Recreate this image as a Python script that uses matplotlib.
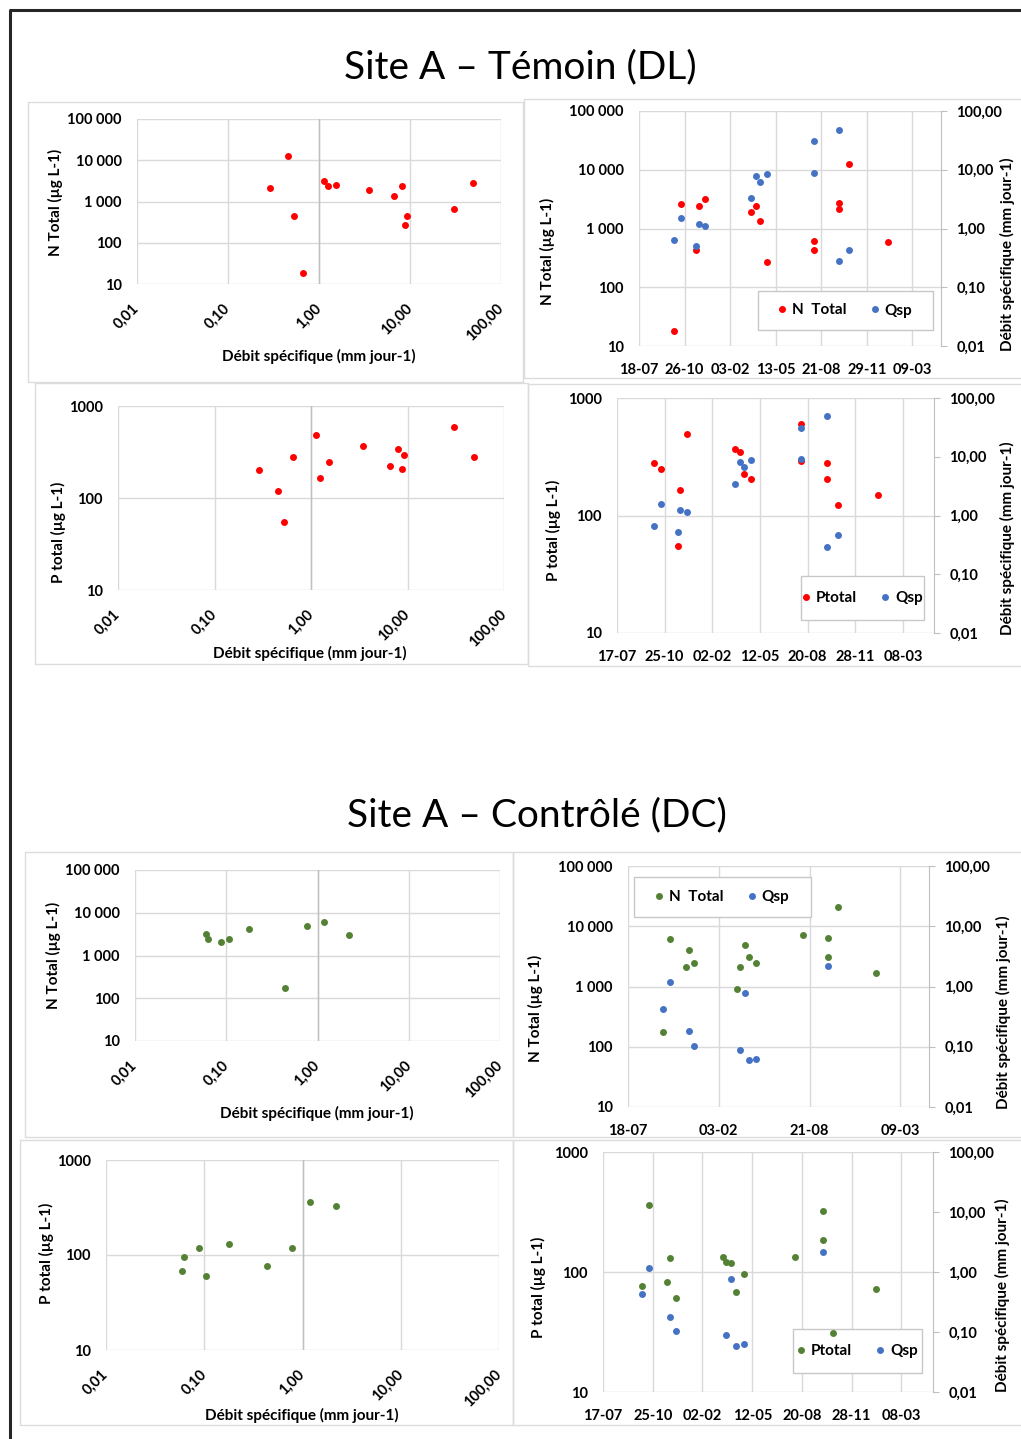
import numpy as np
import pandas as pd
import matplotlib
matplotlib.use('Agg')
import matplotlib.pyplot as plt
import matplotlib.dates as mdates
from matplotlib.ticker import FixedLocator, FuncFormatter, NullLocator
from matplotlib.patches import Rectangle
from matplotlib.lines import Line2D

plt.rcParams['font.family'] = ['Lato', 'DejaVu Sans']
plt.rcParams['font.weight'] = 'bold'

W, H = 1021, 1439
RED, BLUE, GREEN = '#ff0000', '#4472c4', '#548235'
GRID = '#d9d9d9'
MS = 5.0
TICK_FS = 10.5
LAB_FS = 11

# ---- Site A - Temoin (DL) ----
dl_nq_q = [0.286, 0.458, 0.525, 0.659, 1.13, 1.24, 1.53, 3.50, 6.65, 8.15, 9.25, 8.79, 30.7, 48.8]
dl_nq_n = [2120, 12450, 445, 18.5, 3200, 2380, 2560, 1900, 1330, 2380, 445, 269, 646, 2750]

dl_pq_q = [0.286, 0.457, 0.527, 0.653, 1.12, 1.23, 1.53, 3.47, 6.59, 8.04, 8.70, 9.20, 30.6, 48.9]
dl_pq_p = [203, 119, 54.5, 279, 488, 165, 246, 367, 225, 343, 207, 293, 586, 279]

dl_dates_c = ['2015-10-03', '2015-10-18', '2015-11-21', '2015-11-27', '2015-12-10',
              '2016-03-20', '2016-03-30', '2016-04-08', '2016-04-24', '2016-08-06',
              '2016-08-06', '2016-09-30', '2016-09-30', '2016-10-22', '2017-01-15']
dl_ntot = [18, 2565, 438, 2370, 3120, 1925, 2370, 1352, 270, 624, 438, 2738, 2137, 12330, 593]
dl_ptot = [281, 248, 54.6, 165, 494, 371, 347, 226, 206, 601, 293, 281, 205, 123, 150]

dl_dates_q = ['2015-10-03', '2015-10-18', '2015-11-21', '2015-11-27', '2015-12-10',
              '2016-03-20', '2016-03-30', '2016-04-08', '2016-04-24', '2016-08-06',
              '2016-08-06', '2016-09-30', '2016-09-30', '2016-10-22']
dl_qsp_n = [0.641, 1.48, 0.513, 1.20, 1.10, 3.37, 7.8, 6.3, 8.4, 30.4, 8.9, 48, 0.277, 0.438]
dl_qsp_p = [0.650, 1.54, 0.521, 1.22, 1.14, 3.41, 8.07, 6.64, 8.73, 30.5, 9.08, 49.4, 0.286, 0.457]

# ---- Site A - Controle (DC) ----
dc_nq_q = [0.0594, 0.0635, 0.0875, 0.106, 0.179, 0.436, 0.771, 1.18, 2.20]
dc_nq_n = [3245, 2478, 2071, 2390, 4090, 177, 4990, 5970, 3070]

dc_pq_q = [0.0594, 0.0623, 0.0877, 0.104, 0.179, 0.436, 0.781, 1.20, 2.19]
dc_pq_p = [67.5, 96, 119.5, 60.2, 129.5, 76.8, 119.5, 362, 324]

dc_dates_c = ['2015-10-03', '2015-10-18', '2015-11-22', '2015-11-29', '2015-12-11',
              '2016-03-14', '2016-03-21', '2016-03-31', '2016-04-09', '2016-04-25',
              '2016-08-07', '2016-10-01', '2016-10-01', '2016-10-22', '2017-01-15']
dc_ntot = [176, 6070, 2080, 4040, 2426, 908, 2080, 4940, 3128, 2490, 7066, 6380, 3050, 20600, 1698]
dc_ptot = [76.9, 365, 82, 130.7, 60.8, 134, 122, 118.9, 68.2, 95.7, 132.4, 324, 186, 30.9, 72.8]

dc_dates_q = ['2015-10-03', '2015-10-18', '2015-11-29', '2015-12-11', '2016-03-21',
              '2016-03-31', '2016-04-09', '2016-04-25', '2016-10-01']
dc_qsp_n = [0.428, 1.19, 0.180, 0.103, 0.088, 0.771, 0.060, 0.062, 2.19]
dc_qsp_p = [0.426, 1.16, 0.179, 0.103, 0.0885, 0.766, 0.0589, 0.0620, 2.18]

thou = FuncFormatter(lambda v, p: f'{v:,.0f}'.replace(',', ' '))
plain = FuncFormatter(lambda v, p: f'{v:.0f}')
dec2 = FuncFormatter(lambda v, p: f'{v:.2f}'.replace('.', ','))

QLAB = 'Débit spécifique (mm jour-1)'

fig = plt.figure(figsize=(W / 100, H / 100), dpi=100)

# background: black frame + chart borders (pixel coordinates)
bg = fig.add_axes([0, 0, 1, 1])
bg.set_xlim(0, W)
bg.set_ylim(H, 0)
bg.axis('off')
bg.plot([9.5, 9.5, W], [H, 9.5, 9.5], color='#262626', lw=2.2, solid_capstyle='butt')
for x0, y0, x1, y1 in [(28, 102, 523, 382), (524, 99, 1025, 378), (35, 383, 528, 664),
                       (528, 384, 1025, 666), (25, 852, 513, 1137), (513, 852, 1025, 1137),
                       (20, 1140, 513, 1425), (513, 1140, 1025, 1425)]:
    bg.add_patch(Rectangle((x0, y0), x1 - x0, y1 - y0, fill=False, ec='#dcdcdc', lw=1))


def px_axes(x0, y0, x1, y1):
    return fig.add_axes([x0 / W, 1 - y1 / H, (x1 - x0) / W, (y1 - y0) / H])


def ptext(x, y, s, **kw):
    fig.text(x / W, 1 - y / H, s, ha='center', va='center', **kw)


def log_ticks(ax, axis, lo, hi, fmt):
    a = ax.xaxis if axis == 'x' else ax.yaxis
    a.set_major_locator(FixedLocator(10.0 ** np.arange(np.log10(lo), np.log10(hi) + 0.5)))
    a.set_minor_locator(NullLocator())
    a.set_major_formatter(fmt)


def scatter_panel(box, q, c, color, ymax, yfmt, ylabel, ylab_xy, xlab_xy):
    ax = px_axes(*box)
    ax.plot(q, c, 'o', color=color, ms=MS, mec='none', zorder=3)
    ax.set_xscale('log')
    ax.set_yscale('log')
    ax.set_xlim(0.01, 100)
    ax.set_ylim(10, ymax)
    log_ticks(ax, 'x', 0.01, 100, dec2)
    log_ticks(ax, 'y', 10, ymax, yfmt)
    ax.grid(True, color=GRID, lw=1)
    ax.set_axisbelow(True)
    ax.axvline(1, color='#bfbfbf', lw=1, zorder=1)
    for s in ax.spines.values():
        s.set_visible(False)
    ax.tick_params(length=0, labelsize=TICK_FS)
    ax.tick_params(axis='y', pad=11)
    ax.tick_params(axis='x', pad=16)
    plt.setp(ax.get_xticklabels(), rotation=45, ha='right', va='center', rotation_mode='anchor')
    ptext(*ylab_xy, ylabel, rotation=90, fontsize=LAB_FS)
    ptext(*xlab_xy, QLAB, fontsize=LAB_FS)


def time_panel(box, start, ndays, step, dates_c, c, color, dates_q, q, cmax, cfmt,
               ylabel, ylab_xy, rlab_xy, cname, leg_box):
    ax = px_axes(*box)
    ax2 = ax.twinx()
    ax.plot(pd.to_datetime(dates_c), c, 'o', color=color, ms=MS, mec='none', zorder=3)
    ax2.plot(pd.to_datetime(dates_q), q, 'o', color=BLUE, ms=MS, mec='none', zorder=3)
    t0 = pd.Timestamp(start)
    ax.set_xlim(t0, t0 + pd.Timedelta(days=ndays))
    ax.set_xticks(pd.date_range(t0, t0 + pd.Timedelta(days=ndays), freq=f'{step}D'))
    ax.xaxis.set_major_formatter(mdates.DateFormatter('%d-%m'))
    ax.set_yscale('log')
    ax.set_ylim(10, cmax)
    log_ticks(ax, 'y', 10, cmax, cfmt)
    ax2.set_yscale('log')
    ax2.set_ylim(0.01, 100)
    log_ticks(ax2, 'y', 0.01, 100, dec2)
    ax.grid(True, color=GRID, lw=1)
    ax.set_axisbelow(True)
    for s in ax.spines.values():
        s.set_visible(False)
    for k, s in ax2.spines.items():
        s.set_visible(k == 'right')
    ax2.spines['right'].set_color('#bfbfbf')
    ax.tick_params(length=0, labelsize=TICK_FS)
    ax.tick_params(axis='y', pad=11)
    ax.tick_params(axis='x', pad=12)
    ax2.tick_params(axis='y', direction='out', length=4, color='#bfbfbf', labelsize=TICK_FS, pad=7)
    ptext(*ylab_xy, ylabel, rotation=90, fontsize=LAB_FS)
    ptext(*rlab_xy, QLAB, rotation=90, fontsize=LAB_FS)
    # legend box
    x0, y0, x1, y1 = leg_box
    ax.add_patch(Rectangle((x0 / W, 1 - y1 / H), (x1 - x0) / W, (y1 - y0) / H,
                           transform=fig.transFigure, fc='white', ec='#c8c8c8', lw=1,
                           zorder=2, clip_on=False))
    handles = [Line2D([], [], marker='o', ls='none', color=color, ms=MS, mec='none'),
               Line2D([], [], marker='o', ls='none', color=BLUE, ms=MS, mec='none')]
    ax2.legend(handles, [cname, 'Qsp'], ncol=2, frameon=False, loc='center',
               bbox_to_anchor=((x0 + x1) / 2 / W, 1 - (y0 + y1) / 2 / H),
               bbox_transform=fig.transFigure, handlelength=0.5, handletextpad=0.4,
               columnspacing=1.6, fontsize=LAB_FS, borderpad=0)


# titles
ptext(520, 67, 'Site A – Témoin (DL)', fontsize=28, fontweight='normal')
ptext(537, 815, 'Site A – Contrôlé (DC)', fontsize=28, fontweight='normal')

# DL
scatter_panel((137, 119, 501, 284), dl_nq_q, dl_nq_n, RED, 1e5, thou,
              'N Total (µg L-1)', (55, 202), (319, 356))
time_panel((639, 111, 941, 346), '2015-07-18', 663, 100, dl_dates_c, dl_ntot, RED,
           dl_dates_q, dl_qsp_n, 1e5, thou, 'N Total (µg L-1)', (547, 251), (1007, 254),
           'N  Total', (758, 291, 933, 330))
scatter_panel((118, 406, 504, 590), dl_pq_q, dl_pq_p, RED, 1e3, plain,
              'P total (µg L-1)', (58, 532), (310, 653))
time_panel((617, 398, 934, 633), '2015-07-17', 665, 100, dl_dates_c, dl_ptot, RED,
           dl_dates_q, dl_qsp_p, 1e3, plain, 'P total (µg L-1)', (553, 530), (1007, 538),
           'Ptotal', (801, 576, 924, 620))

# DC
scatter_panel((135, 870, 500, 1041), dc_nq_q, dc_nq_n, GREEN, 1e5, thou,
              'N Total (µg L-1)', (53, 955), (317, 1113))
time_panel((628, 866, 929, 1107), '2015-07-18', 663, 200, dc_dates_c, dc_ntot, GREEN,
           dc_dates_q, dc_qsp_n, 1e5, thou, 'N Total (µg L-1)', (535, 1008), (1003, 1012),
           'N  Total', (634, 877, 811, 917))
scatter_panel((106, 1160, 499, 1350), dc_pq_q, dc_pq_p, GREEN, 1e3, plain,
              'P total (µg L-1)', (46, 1253), (302, 1415))
time_panel((603, 1152, 933, 1392), '2015-07-17', 663.5, 100, dc_dates_c, dc_ptot, GREEN,
           dc_dates_q, dc_qsp_p, 1e3, plain, 'P total (µg L-1)', (538, 1287), (1002, 1295),
           'Ptotal', (793, 1329, 922, 1373))

fig.savefig('out.png', dpi=100)
